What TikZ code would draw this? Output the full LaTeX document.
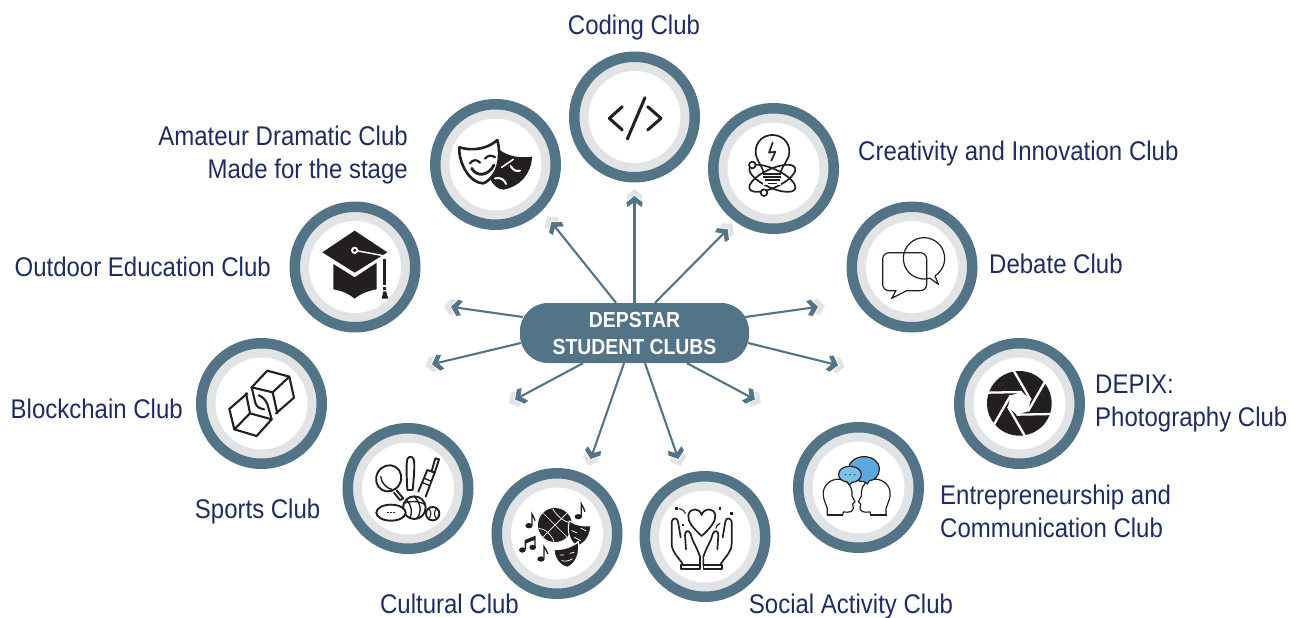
\documentclass[tikz,border=0pt]{standalone}
\usepackage{fontspec}
\setmainfont[FakeStretch=0.889]{Liberation Sans}
\usetikzlibrary{calc}
\definecolor{teal}{HTML}{527486}
\definecolor{ring}{HTML}{E1E3E5}
\definecolor{navy}{HTML}{1F2B63}
\definecolor{ink}{HTML}{231F20}
\definecolor{bubbleA}{HTML}{5DA9DD}
\definecolor{bubbleB}{HTML}{7CC1E8}
\tikzset{
  outerring/.style={circle,draw=teal,fill=ring,line width=10.5pt,minimum size=120.5pt,inner sep=0pt},
  innerdisc/.style={circle,fill=white,minimum size=92pt,inner sep=0pt},
  label/.style={text=navy,inner sep=0pt,font=\fontsize{27}{33}\selectfont},
  hubbox/.style={rectangle,rounded corners=28pt,fill=teal,text=white,minimum width=229pt,minimum height=60pt,inner sep=0pt,align=center,font=\fontsize{21.8}{27}\selectfont\bfseries},
  link/.style={draw=teal,line width=2.1pt,shorten >=3pt},
  icon/.style={draw=ink,line width=1.7pt,line cap=round,line join=round},
  zoomA/.style={shift={(420,40)},x=0.33333pt,y=-0.33333pt},
  zoomB/.style={shift={(280,190)},x=0.33333pt,y=-0.33333pt},
  zoomC/.style={shift={(190,330)},x=0.33333pt,y=-0.33333pt},
  zoomD/.style={shift={(480,460)},x=0.33333pt,y=-0.33333pt},
  zoomE/.style={shift={(790,200)},x=0.33333pt,y=-0.33333pt},
}
% connector with a teal chevron and a pale chevron just ahead of it
\newcommand{\linkto}[2]{%
  \path let \p1=($(#2)-(#1)$),\n1={atan2(\y1,\x1)} in \pgfextra{\xdef\chevang{\n1}};
  \fill[ring,shift={(#2)},rotate=\chevang,xshift=7pt]
    (1pt,0pt)--(-5.5pt,8.2pt)--(-10pt,7pt)--(-5pt,0pt)--(-10pt,-7pt)--(-5.5pt,-8.2pt)--cycle;
  \draw[link] (#1) -- (#2);
  \fill[teal,shift={(#2)},rotate=\chevang]
    (1pt,0pt)--(-5.5pt,8.2pt)--(-10pt,7pt)--(-5pt,0pt)--(-10pt,-7pt)--(-5.5pt,-8.2pt)--cycle;}
\begin{document}
\begin{tikzpicture}[x=1pt,y=-1pt]
\useasboundingbox (0,0) rectangle (1303,618);
% rings
\foreach \cname/\px/\py in {coding/634.5/117,drama/495.5/164.5,creat/773.5/168.5,outdoor/355/267,debate/912/267,block/261.5/403.5,depix/1019.5/403.5,sports/408/488.5,entre/858.5/487.5,cultural/557/533.5,social/705/536.5}{
  \node[outerring] (\cname) at (\px,\py) {};
  \node[innerdisc] (\cname-in) at (\cname) {};
}
% hub
\node[hubbox] (hub) at (634.5,333) {\raisebox{-1.5pt}{DEPSTAR}\\\raisebox{-1.5pt}{STUDENT CLUBS}};
% tips
\coordinate (t-coding) at (634.5,197);
\coordinate (t-drama) at (552,223);
\coordinate (t-creat) at (727,230);
\coordinate (t-outdoor) at (452,307);
\coordinate (t-block) at (433,364);
\coordinate (t-sports) at (516,399);
\coordinate (t-cultural) at (591,458);
\coordinate (t-social) at (678,458);
\coordinate (t-entre) at (754,399);
\coordinate (t-depix) at (837,365);
\coordinate (t-debate) at (817,307);
\coordinate (s-coding) at (hub.north);
\coordinate (s-drama) at ([xshift=-18.5pt]hub.north);
\coordinate (s-creat) at ([xshift=20.5pt]hub.north);
\coordinate (s-outdoor) at ([xshift=3pt,yshift=16pt]hub.west);
\coordinate (s-block) at ([xshift=1pt,yshift=-10pt]hub.west);
\coordinate (s-sports) at ([xshift=-51.5pt]hub.south);
\coordinate (s-cultural) at ([xshift=-10.5pt]hub.south);
\coordinate (s-social) at ([xshift=10.5pt]hub.south);
\coordinate (s-entre) at ([xshift=52.5pt]hub.south);
\coordinate (s-depix) at ([xshift=-1pt,yshift=-10pt]hub.east);
\coordinate (s-debate) at ([xshift=-4pt,yshift=16pt]hub.east);
\foreach \cname in {coding,drama,creat,outdoor,block,sports,cultural,social,entre,depix,debate}{
  \linkto{s-\cname}{t-\cname}
}
% labels
\node[label,anchor=center] (l-coding) at (634,28) {Coding Club};
\node[label,anchor=east,align=right] (l-drama) at (408,155.5) {Amateur Dramatic Club\\Made for the stage};
\node[label,anchor=west] (l-creat) at (858,154) {Creativity and Innovation Club};
\node[label,anchor=west] (l-debate) at (989,264) {Debate Club};
\node[label,anchor=east] (l-outdoor) at (271,267) {Outdoor Education Club};
\node[label,anchor=west,align=left] (l-depix) at (1095,403.5) {DEPIX:\\Photography Club};
\node[label,anchor=east] (l-block) at (183,409) {Blockchain Club};
\node[label,anchor=west,align=left] (l-entre) at (940,511) {Entrepreneurship and\\Communication Club};
\node[label,anchor=east] (l-sports) at (320.5,512) {Sports Club};
\node[label,anchor=center] (l-cultural) at (449.5,604) {Cultural Club};
\node[label,anchor=center] (l-social) at (851,607) {Social Activity Club};
% ---- icons ----
\begin{scope}[zoomA]
  % code
  \draw[icon,line width=3pt] (607,200)--(568,235)--(607,270);
  \draw[icon,line width=3pt] (675,173)--(622,297);
  \draw[icon,line width=3pt] (683,200)--(723,235)--(683,270);
  % masks
  \fill[ink] (236,328) .. controls (265,350) and (300,355) .. (336,350) .. controls (335,400) and (300,440) .. (250,449) .. controls (235,449) and (220,435) .. (212,420) -- cycle;
  \draw[draw=ink,fill=white,line width=2.6pt,line join=round] (118,322) .. controls (160,335) and (205,325) .. (232,300) .. controls (245,350) and (235,410) .. (190,430) .. controls (150,430) and (115,370) .. (118,322) -- cycle;
  \draw[ink,line width=2.2pt,line cap=round] (150,370) .. controls (158,358) and (172,358) .. (180,368);
  \draw[ink,line width=2.2pt,line cap=round] (195,356) .. controls (203,345) and (217,345) .. (225,352);
  \draw[ink,line width=2.8pt,line cap=round] (155,385) .. controls (170,412) and (205,408) .. (222,375);
  \draw[white,line width=1.5pt,line cap=round] (245,382) -- (280,358);
  \draw[white,line width=2pt,line cap=round] (272,378) .. controls (280,392) and (290,395) .. (300,392);
  \draw[white,line width=2pt,line cap=round] (225,415) .. controls (240,410) and (255,420) .. (258,432);
  % bulb
  \draw[icon] (1030,395) .. controls (1025,375) and (1007,360) .. (1007,335) .. controls (1007,305) and (1030,285) .. (1057,285) .. controls (1085,285) and (1108,305) .. (1108,335) .. controls (1108,360) and (1088,375) .. (1082,395);
  \draw[icon] (1058,308)--(1047,338)--(1066,335)--(1054,362);
  \draw[icon,rotate around={25:(1057,415)}] (1057,415) ellipse [x radius=75,y radius=28];
  \draw[icon,rotate around={-25:(1057,415)}] (1057,415) ellipse [x radius=75,y radius=28];
  \fill[white] (1030,398) rectangle (1084,436);
  \draw[icon,line width=1.6pt,line cap=butt] (1030,402)--(1082,402) (1030,411)--(1084,411) (1034,420)--(1080,420) (1043,431)--(1070,431);
  \draw[icon,fill=white] (997,375) circle [radius=10];
  \draw[icon,fill=white] (1032,458) circle [radius=10];
\end{scope}
\begin{scope}[zoomB]
  % graduation cap
  \fill[ink] (160,222)--(224,262)--(290,218)--(290,298) .. controls (265,302) and (240,312) .. (224,326) .. controls (208,312) and (185,302) .. (160,298) -- cycle;
  \fill[ink] (224,122)--(322,187)--(224,248)--(127,187)--cycle;
  \draw[white,line width=1.4pt] (224,181)--(310,197);
  \fill[white] (224,181) circle [radius=11];
  \fill[ink] (224,181) circle [radius=5];
  \draw[white,line width=1.4pt] (304,196)--(304,225);
  \fill[ink] (308,207) rectangle (318,285);
  \fill[ink] (309,291) rectangle (317,300);
  \fill[ink] (310,304)--(318,304)--(325,326)--(305,326)--cycle;
\end{scope}
\begin{scope}[zoomC]
  % cubes
  \begin{scope}[icon/.append style={line width=2.1pt}]
  \draw[icon] (172,190)--(118,237)--(133,298)--(200,318)--(245,268)--(232,222) .. controls (225,205) and (212,198) .. (206,196);
  \draw[icon] (133,298)--(180,250)--(245,268);
  \draw[icon] (180,250)--(168,190);
  \draw[icon] (258,250)--(312,203)--(298,140)--(232,122)--(185,172)--(197,222) .. controls (203,232) and (212,238) .. (222,238);
  \draw[icon] (298,140)--(248,187)--(185,172);
  \draw[icon] (248,187)--(262,250);
  \end{scope}
  % sports
  \begin{scope}[icon/.append style={line width=1.9pt}]
  \draw[icon,rotate around={-30:(596,445)}] (596,445) ellipse [x radius=37,y radius=40];
  \draw[icon,line width=1.4pt] (572,440) .. controls (575,460) and (590,475) .. (605,478);
  \draw[icon] (620,482)--(640,505)--(630,510)--(612,488);
  \draw[icon] (652,480) .. controls (650,440) and (648,400) .. (652,388) .. controls (655,378) and (668,378) .. (671,388) .. controls (675,400) and (672,440) .. (668,480) -- cycle;
  \draw[icon] (685,485)--(712,420)--(734,428)--(707,500);
  \draw[icon] (725,423)--(736,385)--(747,388)--(734,428);
  \draw[icon,line width=1.4pt] (703,445)--(722,453) (698,458)--(717,466);
  \draw[icon,fill=white] (673,533) circle [radius=34];
  \draw[icon,line width=1.4pt] (642,520) .. controls (665,510) and (695,515) .. (706,525);
  \draw[icon,line width=1.4pt] (672,499) .. controls (695,520) and (695,550) .. (680,566);
  \draw[icon,line width=1.4pt] (650,510) .. controls (665,525) and (668,550) .. (660,563);
  \draw[icon,fill=white] (603,548) ellipse [x radius=44,y radius=24];
  \draw[icon,line width=1.6pt,dash pattern=on 2pt off 1.2pt,line cap=butt] (590,548)--(616,548);
  \draw[icon,fill=white] (728,551) circle [radius=20];
  \draw[icon,line width=1.1pt] (716,536) .. controls (725,545) and (725,556) .. (716,567);
  \draw[icon,line width=1.1pt] (740,536) .. controls (731,545) and (731,556) .. (740,567);
  \end{scope}
\end{scope}
\begin{scope}[zoomD]
  % cultural
  \fill[ink] (225,195) circle [radius=51];
  \draw[white,line width=0.7pt] (190,160)--(262,232) (262,158)--(190,230);
  \draw[white,line width=0.7pt] (218,146) .. controls (235,175) and (255,185) .. (275,190);
  \draw[white,line width=0.7pt] (176,205) .. controls (195,205) and (215,225) .. (222,245);
  % masks
  \draw[white,fill=ink,line width=1pt] (268,183) .. controls (285,195) and (310,200) .. (333,197) .. controls (330,230) and (315,250) .. (292,258) .. controls (275,250) and (258,225) .. (268,183) -- cycle;
  \draw[white,line width=1.2pt,fill=ink] (222,268) .. controls (245,270) and (275,262) .. (295,245) .. controls (300,280) and (290,310) .. (262,322) .. controls (240,318) and (222,295) .. (222,268) -- cycle;
  \draw[white,line width=0.8pt,line cap=round] (275,212)--(290,218) (303,205)--(318,212) (283,232) .. controls (290,236) and (296,238) .. (302,242);
  \draw[white,line width=0.8pt,line cap=round] (240,285)--(252,285) (270,280)--(282,277) (245,302) .. controls (255,305) and (268,303) .. (277,296);
  % notes
  \fill[ink] (147,197) ellipse [x radius=11,y radius=8];
  \draw[ink,line width=1.3pt] (156,195)--(156,162) .. controls (158,172) and (165,172) .. (165,182);
  \fill[ink] (295,170) ellipse [x radius=11,y radius=8];
  \draw[ink,line width=1.3pt] (304,168)--(304,132) .. controls (306,142) and (315,145) .. (315,155);
  \fill[ink] (183,297) ellipse [x radius=11,y radius=8];
  \draw[ink,line width=1.3pt] (192,295)--(192,260) .. controls (194,270) and (204,272) .. (204,282);
  \fill[ink] (127,270) ellipse [x radius=10,y radius=8];
  \fill[ink] (158,262) ellipse [x radius=10,y radius=8];
  \fill[ink] (134,268)--(134,240)--(167,227)--(167,260)--(163,260)--(163,240)--(138,250)--(138,268)--cycle;
  % hands
  \foreach \sx in {1,-1}{
    \begin{scope}[xshift=221.67pt,xscale=\sx,xshift=-221.67pt]
      \draw[icon] (660,316)--(660,290) .. controls (650,260) and (635,240) .. (632,222) .. controls (628,210) and (615,210) .. (615,225) -- (618,268);
      \draw[icon] (608,312) .. controls (590,285) and (575,275) .. (575,250) -- (575,185) .. controls (578,172) and (592,172) .. (594,185) -- (602,232);
      \draw[icon] (604,316) rectangle (660,326);
    \end{scope}
  }
  \draw[icon] (665,228) .. controls (640,205) and (622,185) .. (625,165) .. controls (630,143) and (658,142) .. (665,165) .. controls (672,142) and (702,143) .. (706,165) .. controls (708,185) and (690,205) .. (665,228) -- cycle;
  \fill[ink] (586,142) rectangle (593,149);
  \fill[ink] (606,192) rectangle (613,199);
  \fill[ink] (717,142) rectangle (724,149);
  \fill[ink] (750,157) rectangle (758,164);
  \draw[icon,line width=1.1pt] (598,146) .. controls (608,148) and (613,152) .. (616,160);
  \draw[icon,line width=1.1pt] (708,205) .. controls (708,198) and (714,192) .. (720,190);
\end{scope}
\begin{scope}[zoomE]
  % speech bubbles
  \draw[icon,line width=1.2pt] (318,272)--(305,295)--(350,272)--(390,272) .. controls (402,272) and (410,264) .. (410,252) -- (410,178) .. controls (410,166) and (402,158) .. (390,158) -- (298,158) .. controls (286,158) and (278,166) .. (278,178) -- (278,252) .. controls (278,264) and (286,272) .. (298,272) -- cycle;
  \draw[icon,line width=1.2pt] (402,175) ++(58:62) arc [start angle=58,end angle=-286.5,radius=62] -- (445,253) -- cycle;
  % aperture
  \fill[ink] (688,610) circle [radius=97];
  \fill[white] (722,600)--(714,634)--(680,644)--(654,620)--(662,586)--(696,576)--cycle;
  \draw[white,line width=2.3pt] (670,510)--(722,600) (765,545)--(714,634) (785,642)--(680,644) (706,710)--(654,620) (611,675)--(662,586) (592,578)--(696,576);
  % heads
  \foreach \sx in {1,-1}{
    \begin{scope}[xshift=66.67pt,xscale=\sx,xshift=-66.67pt]
      \draw[icon,line width=1.2pt,line cap=butt,fill=white] (112,945)--(112,925) .. controls (105,905) and (98,895) .. (100,875) .. controls (104,848) and (130,835) .. (150,838) .. controls (170,840) and (184,855) .. (186,875) -- (186,888) -- (195,905) -- (188,912) -- (190,925) .. controls (188,935) and (180,938) .. (160,936) -- (158,945);
      \draw[ink,line width=1.6pt] (110,945)--(160,945);
    \end{scope}
  }
  \draw[icon,line width=1.2pt,fill=bubbleA] (222,845) .. controls (195,845) and (176,825) .. (176,805) .. controls (176,785) and (198,770) .. (222,770) .. controls (248,770) and (268,785) .. (268,808) .. controls (268,828) and (252,842) .. (238,842) -- (232,852) -- cycle;
  \draw[icon,line width=1.2pt,fill=bubbleB] (172,846) .. controls (155,844) and (146,835) .. (146,823) .. controls (146,808) and (160,799) .. (180,799) .. controls (200,799) and (214,810) .. (214,823) .. controls (214,836) and (200,847) .. (186,847) -- (178,855) -- cycle;
  \fill[ink] (166,824) circle [radius=2] (180,824) circle [radius=2] (194,824) circle [radius=2];
\end{scope}
\end{tikzpicture}
\end{document}
